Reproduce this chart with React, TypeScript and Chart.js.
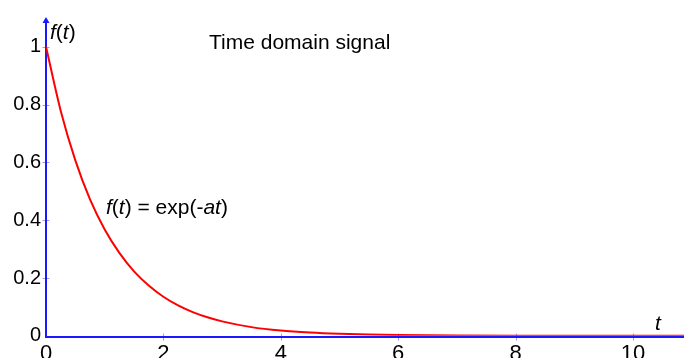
import React, { useEffect, useRef } from 'react';
import { Chart, registerables } from 'chart.js';

Chart.register(...registerables);

// Data
const tValues = [0, 0.25, 0.5, 0.75, 1, 1.25, 1.5, 1.75, 2, 2.25, 2.5, 2.75, 3, 3.5, 4, 4.5, 5, 5.5, 6, 7, 8, 9, 10, 10.87];
const fValues = [1, 0.779, 0.607, 0.472, 0.368, 0.287, 0.223, 0.174, 0.135, 0.105, 0.082, 0.064, 0.05, 0.03, 0.018, 0.011, 0.0067, 0.0041, 0.0025, 0.0009, 0.0003, 0.0001, 0.00005, 0.00002];
const xTicks = [0, 2, 4, 6, 8, 10];
const yTicks = [0, 0.2, 0.4, 0.6, 0.8, 1];
const titleText = 'Time domain signal';

const AXIS_BLUE = 'rgb(25,25,255)';
const TICK_BLUE = 'rgba(120,120,255,0.75)';
const FONT_FAMILY = '"Liberation Sans", Arial, Helvetica, sans-serif';
const TEXT_SIZE = 21;

type Part = { text: string; italic?: boolean };

function drawRich(ctx: CanvasRenderingContext2D, parts: Part[], x: number, y: number) {
  let cx = x;
  for (const p of parts) {
    ctx.font = `${p.italic ? 'italic ' : ''}${TEXT_SIZE}px ${FONT_FAMILY}`;
    ctx.fillText(p.text, cx, y);
    cx += ctx.measureText(p.text).width;
  }
}

const decorPlugin = {
  id: 'decor',
  beforeDatasetsDraw(chart: any) {
    const { ctx, chartArea, scales } = chart;
    const x = scales.x;
    const y = scales.y;
    const x0 = x.getPixelForValue(0);
    const y0 = y.getPixelForValue(0);
    const axisY = y0 + 1.3;
    ctx.save();
    ctx.strokeStyle = TICK_BLUE;
    ctx.lineWidth = 1;
    for (const v of xTicks) {
      if (v === 0) continue;
      const px = Math.round(x.getPixelForValue(v)) + 0.5;
      ctx.beginPath();
      ctx.moveTo(px, axisY - 3.5);
      ctx.lineTo(px, axisY + 3.5);
      ctx.stroke();
    }
    for (const v of yTicks) {
      if (v === 0) continue;
      const py = Math.round(y.getPixelForValue(v)) + 0.5;
      ctx.beginPath();
      ctx.moveTo(x0 - 3.5, py);
      ctx.lineTo(x0 + 3.5, py);
      ctx.stroke();
    }
    ctx.strokeStyle = AXIS_BLUE;
    ctx.lineWidth = 2;
    ctx.beginPath();
    ctx.moveTo(x0 - 1, axisY);
    ctx.lineTo(chartArea.right, axisY);
    ctx.stroke();
    ctx.beginPath();
    ctx.moveTo(x0, axisY);
    ctx.lineTo(x0, chartArea.top + 4);
    ctx.stroke();
    ctx.fillStyle = AXIS_BLUE;
    ctx.beginPath();
    ctx.moveTo(x0, chartArea.top);
    ctx.lineTo(x0 - 3.5, chartArea.top + 6);
    ctx.lineTo(x0 + 3.5, chartArea.top + 6);
    ctx.closePath();
    ctx.fill();
    ctx.restore();
  },
  afterDatasetsDraw(chart: any) {
    const { ctx } = chart;
    ctx.save();
    ctx.fillStyle = '#000';
    ctx.textBaseline = 'alphabetic';
    ctx.textAlign = 'left';
    ctx.font = `${TEXT_SIZE}px ${FONT_FAMILY}`;
    ctx.fillText(titleText, 209, 49);
    drawRich(ctx, [{ text: 'f', italic: true }, { text: '(' }, { text: 't', italic: true }, { text: ')' }], 50, 39);
    drawRich(ctx, [{ text: 't', italic: true }], 655, 330);
    drawRich(
      ctx,
      [
        { text: 'f', italic: true },
        { text: '(' },
        { text: 't', italic: true },
        { text: ') = exp(-' },
        { text: 'at', italic: true },
        { text: ')' },
      ],
      106,
      214
    );
    ctx.restore();
  },
};

export default function App() {
  const ref = useRef<HTMLCanvasElement>(null);
  useEffect(() => {
    if (!ref.current) return;
    const chart = new Chart(ref.current, {
      type: 'line',
      data: {
        datasets: [
          {
            data: tValues.map((t, i) => ({ x: t, y: fValues[i] })),
            borderColor: 'rgb(255,0,0)',
            borderWidth: 2,
            pointRadius: 0,
            fill: false,
            cubicInterpolationMode: 'monotone',
          },
        ],
      },
      options: {
        animation: false,
        responsive: false,
        layout: { padding: { top: 14, left: 0, right: 0, bottom: 0 } },
        plugins: { legend: { display: false }, tooltip: { enabled: false }, title: { display: false } },
        scales: {
          x: {
            type: 'linear',
            min: 0,
            max: 10.87,
            afterFit: (s: any) => { s.height = 22.2; },
            afterBuildTicks: (s: any) => { s.ticks = xTicks.map((v) => ({ value: v })); },
            grid: { display: false, tickLength: 0, drawTicks: false },
            border: { display: false },
            ticks: {
              color: '#000',
              padding: 5,
              maxRotation: 0,
              autoSkip: false,
              font: { family: FONT_FAMILY, size: 22 },
              callback: (v: any) => String(v),
            },
          },
          y: {
            type: 'linear',
            min: 0,
            max: 1.103,
            afterFit: (s: any) => { s.width = 46; },
            afterBuildTicks: (s: any) => { s.ticks = yTicks.map((v) => ({ value: v })); },
            grid: { display: false, tickLength: 0, drawTicks: false },
            border: { display: false },
            ticks: {
              color: '#000',
              padding: 5,
              autoSkip: false,
              font: { family: FONT_FAMILY, size: 20 },
              callback: (v: any) => String(v),
            },
          },
        },
      },
      plugins: [decorPlugin],
    } as any);
    return () => chart.destroy();
  }, []);
  return (
    <div style={{ position: 'fixed', left: 0, top: 0, width: 684, height: 358, background: '#fff' }}>
      <canvas ref={ref} width={684} height={358} style={{ display: 'block' }} />
    </div>
  );
}
